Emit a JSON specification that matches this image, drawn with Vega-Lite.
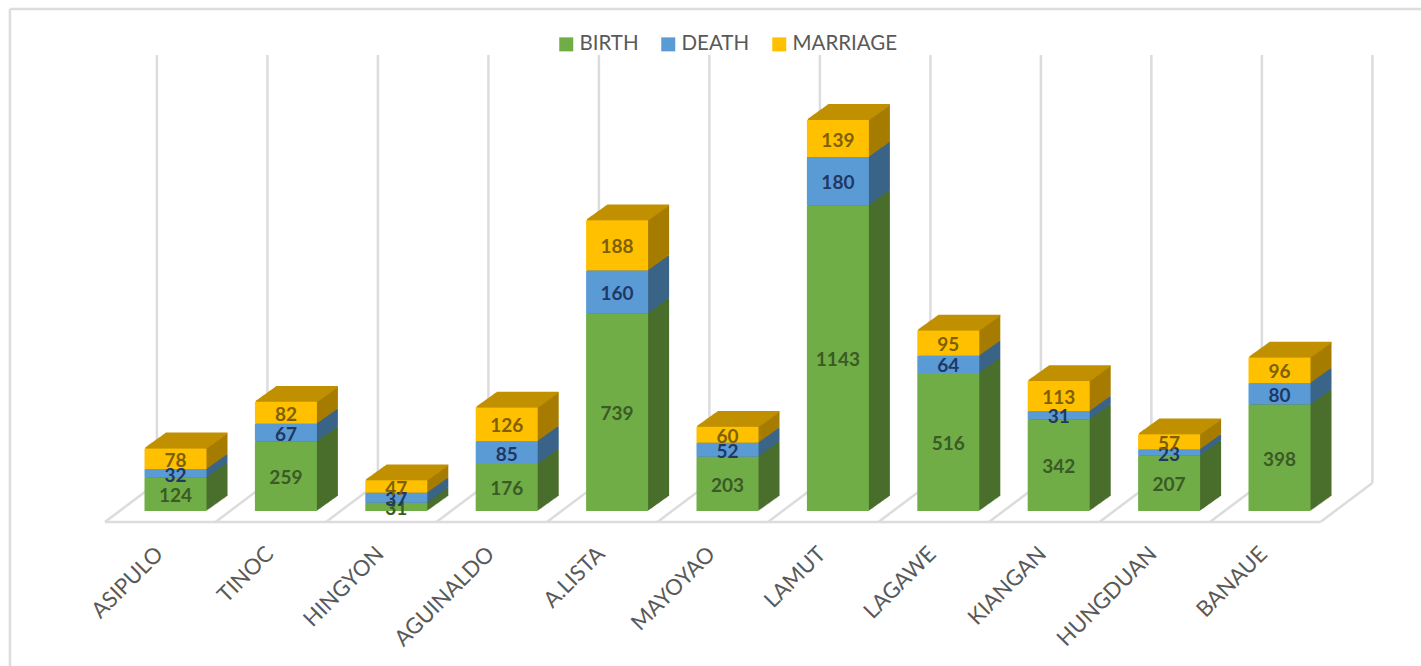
{"$schema":"https://vega.github.io/schema/vega-lite/v6.json","width":1421,"height":666,"padding":0,"autosize":"none","background":"white","view":{"stroke":null},
"config":{"font":"Lato"},
"resolve":{"scale":{"x":"independent"}},
"layer":[
{"data":{"values":[
{"x0":-0.86,"x1":-0.86,"y0":-579,"y1":1877},{"x0":-0.86,"x1":11.91,"y0":1877,"y1":1877},
{"x0":0,"x1":11,"y0":-41,"y1":-41},
{"x0":0,"x1":0.47,"y0":-41,"y1":105},{"x0":1,"x1":1.47,"y0":-41,"y1":105},{"x0":2,"x1":2.47,"y0":-41,"y1":105},{"x0":3,"x1":3.47,"y0":-41,"y1":105},{"x0":4,"x1":4.47,"y0":-41,"y1":105},{"x0":5,"x1":5.47,"y0":-41,"y1":105},{"x0":6,"x1":6.47,"y0":-41,"y1":105},{"x0":7,"x1":7.47,"y0":-41,"y1":105},{"x0":8,"x1":8.47,"y0":-41,"y1":105},{"x0":9,"x1":9.47,"y0":-41,"y1":105},{"x0":10,"x1":10.47,"y0":-41,"y1":105},{"x0":11,"x1":11.47,"y0":-41,"y1":105},
{"x0":0.47,"x1":0.47,"y0":105,"y1":1705},{"x0":1.47,"x1":1.47,"y0":105,"y1":1705},{"x0":2.47,"x1":2.47,"y0":105,"y1":1705},{"x0":3.47,"x1":3.47,"y0":105,"y1":1705},{"x0":4.47,"x1":4.47,"y0":105,"y1":1705},{"x0":5.47,"x1":5.47,"y0":105,"y1":1705},{"x0":6.47,"x1":6.47,"y0":105,"y1":1705},{"x0":7.47,"x1":7.47,"y0":105,"y1":1705},{"x0":8.47,"x1":8.47,"y0":105,"y1":1705},{"x0":9.47,"x1":9.47,"y0":105,"y1":1705},{"x0":10.47,"x1":10.47,"y0":105,"y1":1705},{"x0":11.47,"x1":11.47,"y0":105,"y1":1705}
]},
"mark":{"type":"rule","color":"#dcdcdc","strokeWidth":2.5},
"encoding":{"x":{"field":"x0","type":"quantitative","scale":{"domain":[-0.95,11.91],"nice":false,"zero":false},"axis":null},"x2":{"field":"x1"},
"y":{"field":"y0","type":"quantitative","scale":{"domain":[-579.4,1910.3],"nice":false,"zero":false},"axis":null},"y2":{"field":"y1"}}},
{"data":{"values":[
{"town":"ASIPULO","series":"BIRTH","value":124},{"town":"ASIPULO","series":"DEATH","value":32},{"town":"ASIPULO","series":"MARRIAGE","value":78},
{"town":"TINOC","series":"BIRTH","value":259},{"town":"TINOC","series":"DEATH","value":67},{"town":"TINOC","series":"MARRIAGE","value":82},
{"town":"HINGYON","series":"BIRTH","value":31},{"town":"HINGYON","series":"DEATH","value":37},{"town":"HINGYON","series":"MARRIAGE","value":47},
{"town":"AGUINALDO","series":"BIRTH","value":176},{"town":"AGUINALDO","series":"DEATH","value":85},{"town":"AGUINALDO","series":"MARRIAGE","value":126},
{"town":"A.LISTA","series":"BIRTH","value":739},{"town":"A.LISTA","series":"DEATH","value":160},{"town":"A.LISTA","series":"MARRIAGE","value":188},
{"town":"MAYOYAO","series":"BIRTH","value":203},{"town":"MAYOYAO","series":"DEATH","value":52},{"town":"MAYOYAO","series":"MARRIAGE","value":60},
{"town":"LAMUT","series":"BIRTH","value":1143},{"town":"LAMUT","series":"DEATH","value":180},{"town":"LAMUT","series":"MARRIAGE","value":139},
{"town":"LAGAWE","series":"BIRTH","value":516},{"town":"LAGAWE","series":"DEATH","value":64},{"town":"LAGAWE","series":"MARRIAGE","value":95},
{"town":"KIANGAN","series":"BIRTH","value":342},{"town":"KIANGAN","series":"DEATH","value":31},{"town":"KIANGAN","series":"MARRIAGE","value":113},
{"town":"HUNGDUAN","series":"BIRTH","value":207},{"town":"HUNGDUAN","series":"DEATH","value":23},{"town":"HUNGDUAN","series":"MARRIAGE","value":57},
{"town":"BANAUE","series":"BIRTH","value":398},{"town":"BANAUE","series":"DEATH","value":80},{"town":"BANAUE","series":"MARRIAGE","value":96}
]},
"transform":[{"stack":"value","groupby":["town"],"sort":[{"field":"series","order":"ascending"}],"as":["s0","s1"]},{"calculate":"(datum.s0+datum.s1)/2","as":"mid"}],
"encoding":{"x":{"field":"town","type":"nominal","scale":{"domain":["ASIPULO","TINOC","HINGYON","AGUINALDO","A.LISTA","MAYOYAO","LAMUT","LAGAWE","KIANGAN","HUNGDUAN","BANAUE"],"range":[120.3,1334.7],"paddingInner":0.44,"paddingOuter":0.22},"axis":{"title":null,"orient":"bottom","offset":-130,"domain":false,"ticks":false,"labelAngle":-45,"labelAlign":"right","labelBaseline":"middle","labelFont":"Lato","labelFontSize":22,"labelColor":"#595959","labelPadding":14,"labelOffset":-16,"grid":false}}},
"layer":[
{"encoding":{"y":{"field":"s0","type":"quantitative"},"y2":{"field":"s1"},"color":{"condition":[{"test":"datum.series==='BIRTH'","value":"#4A6E2C"},{"test":"datum.series==='DEATH'","value":"#3A6488"}],"value":"#A67C00"}},
"layer":[
{"mark":{"type":"bar","width":62,"xOffset":21,"yOffset":-15,"y2Offset":-15}},
{"mark":{"type":"bar","width":62,"xOffset":20,"yOffset":-14.29,"y2Offset":-14.29}},
{"mark":{"type":"bar","width":62,"xOffset":19,"yOffset":-13.57,"y2Offset":-13.57}},
{"mark":{"type":"bar","width":62,"xOffset":18,"yOffset":-12.86,"y2Offset":-12.86}},
{"mark":{"type":"bar","width":62,"xOffset":17,"yOffset":-12.14,"y2Offset":-12.14}},
{"mark":{"type":"bar","width":62,"xOffset":16,"yOffset":-11.43,"y2Offset":-11.43}},
{"mark":{"type":"bar","width":62,"xOffset":15,"yOffset":-10.71,"y2Offset":-10.71}},
{"mark":{"type":"bar","width":62,"xOffset":14,"yOffset":-10,"y2Offset":-10}},
{"mark":{"type":"bar","width":62,"xOffset":13,"yOffset":-9.29,"y2Offset":-9.29}},
{"mark":{"type":"bar","width":62,"xOffset":12,"yOffset":-8.57,"y2Offset":-8.57}},
{"mark":{"type":"bar","width":62,"xOffset":11,"yOffset":-7.86,"y2Offset":-7.86}},
{"mark":{"type":"bar","width":62,"xOffset":10,"yOffset":-7.14,"y2Offset":-7.14}},
{"mark":{"type":"bar","width":62,"xOffset":9,"yOffset":-6.43,"y2Offset":-6.43}},
{"mark":{"type":"bar","width":62,"xOffset":8,"yOffset":-5.71,"y2Offset":-5.71}},
{"mark":{"type":"bar","width":62,"xOffset":7,"yOffset":-5,"y2Offset":-5}},
{"mark":{"type":"bar","width":62,"xOffset":6,"yOffset":-4.29,"y2Offset":-4.29}},
{"mark":{"type":"bar","width":62,"xOffset":5,"yOffset":-3.57,"y2Offset":-3.57}},
{"mark":{"type":"bar","width":62,"xOffset":4,"yOffset":-2.86,"y2Offset":-2.86}},
{"mark":{"type":"bar","width":62,"xOffset":3,"yOffset":-2.14,"y2Offset":-2.14}},
{"mark":{"type":"bar","width":62,"xOffset":2,"yOffset":-1.43,"y2Offset":-1.43}},
{"mark":{"type":"bar","width":62,"xOffset":1,"yOffset":-0.71,"y2Offset":-0.71}}
]},
{"transform":[{"filter":"datum.series==='MARRIAGE'"}],
"encoding":{"y":{"field":"s1","type":"quantitative"}},
"layer":[
{"mark":{"type":"tick","orient":"horizontal","size":62,"thickness":1.6,"color":"#C09000","opacity":1,"xOffset":21,"yOffset":-15}},
{"mark":{"type":"tick","orient":"horizontal","size":62,"thickness":1.6,"color":"#C09000","opacity":1,"xOffset":20,"yOffset":-14.29}},
{"mark":{"type":"tick","orient":"horizontal","size":62,"thickness":1.6,"color":"#C09000","opacity":1,"xOffset":19,"yOffset":-13.57}},
{"mark":{"type":"tick","orient":"horizontal","size":62,"thickness":1.6,"color":"#C09000","opacity":1,"xOffset":18,"yOffset":-12.86}},
{"mark":{"type":"tick","orient":"horizontal","size":62,"thickness":1.6,"color":"#C09000","opacity":1,"xOffset":17,"yOffset":-12.14}},
{"mark":{"type":"tick","orient":"horizontal","size":62,"thickness":1.6,"color":"#C09000","opacity":1,"xOffset":16,"yOffset":-11.43}},
{"mark":{"type":"tick","orient":"horizontal","size":62,"thickness":1.6,"color":"#C09000","opacity":1,"xOffset":15,"yOffset":-10.71}},
{"mark":{"type":"tick","orient":"horizontal","size":62,"thickness":1.6,"color":"#C09000","opacity":1,"xOffset":14,"yOffset":-10}},
{"mark":{"type":"tick","orient":"horizontal","size":62,"thickness":1.6,"color":"#C09000","opacity":1,"xOffset":13,"yOffset":-9.29}},
{"mark":{"type":"tick","orient":"horizontal","size":62,"thickness":1.6,"color":"#C09000","opacity":1,"xOffset":12,"yOffset":-8.57}},
{"mark":{"type":"tick","orient":"horizontal","size":62,"thickness":1.6,"color":"#C09000","opacity":1,"xOffset":11,"yOffset":-7.86}},
{"mark":{"type":"tick","orient":"horizontal","size":62,"thickness":1.6,"color":"#C09000","opacity":1,"xOffset":10,"yOffset":-7.14}},
{"mark":{"type":"tick","orient":"horizontal","size":62,"thickness":1.6,"color":"#C09000","opacity":1,"xOffset":9,"yOffset":-6.43}},
{"mark":{"type":"tick","orient":"horizontal","size":62,"thickness":1.6,"color":"#C09000","opacity":1,"xOffset":8,"yOffset":-5.71}},
{"mark":{"type":"tick","orient":"horizontal","size":62,"thickness":1.6,"color":"#C09000","opacity":1,"xOffset":7,"yOffset":-5}},
{"mark":{"type":"tick","orient":"horizontal","size":62,"thickness":1.6,"color":"#C09000","opacity":1,"xOffset":6,"yOffset":-4.29}},
{"mark":{"type":"tick","orient":"horizontal","size":62,"thickness":1.6,"color":"#C09000","opacity":1,"xOffset":5,"yOffset":-3.57}},
{"mark":{"type":"tick","orient":"horizontal","size":62,"thickness":1.6,"color":"#C09000","opacity":1,"xOffset":4,"yOffset":-2.86}},
{"mark":{"type":"tick","orient":"horizontal","size":62,"thickness":1.6,"color":"#C09000","opacity":1,"xOffset":3,"yOffset":-2.14}},
{"mark":{"type":"tick","orient":"horizontal","size":62,"thickness":1.6,"color":"#C09000","opacity":1,"xOffset":2,"yOffset":-1.43}},
{"mark":{"type":"tick","orient":"horizontal","size":62,"thickness":1.6,"color":"#C09000","opacity":1,"xOffset":1,"yOffset":-0.71}}
]},
{"mark":{"type":"bar","width":62},
"encoding":{"y":{"field":"s0","type":"quantitative"},"y2":{"field":"s1"},"color":{"field":"series","type":"nominal","scale":{"domain":["BIRTH","DEATH","MARRIAGE"],"range":["#70AD47","#5B9BD5","#FFC000"]},"legend":{"title":null,"orient":"none","legendX":556,"legendY":34,"direction":"horizontal","columns":3,"symbolType":"square","symbolSize":196,"symbolStrokeWidth":0,"symbolOpacity":1,"labelFont":"Lato","labelFontSize":20.5,"labelColor":"#595959","labelOffset":3,"columnPadding":19}}}},
{"mark":{"type":"text","font":"Lato","fontWeight":"bold","fontSize":19,"baseline":"middle","align":"center","dy":2},
"encoding":{"y":{"field":"mid","type":"quantitative"},"text":{"field":"value","type":"quantitative"},
"color":{"condition":[{"test":"datum.series==='BIRTH'","value":"#3B5A25"},{"test":"datum.series==='DEATH'","value":"#1F3864"}],"value":"#7F6000"}}}
]}
]}
